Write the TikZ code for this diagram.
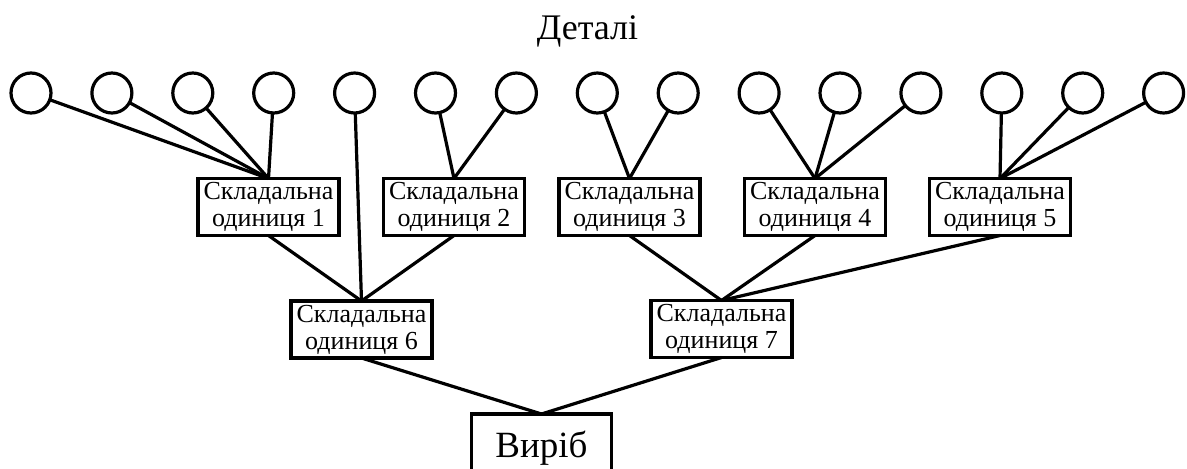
\documentclass[tikz,border=0pt]{standalone}
\usepackage{fontspec}
\setmainfont{Liberation Serif}
\begin{document}
\begin{tikzpicture}[x=0.75pt,y=-0.75pt,
  detail/.style={circle,draw,line width=2.4pt,minimum size=30pt,inner sep=0pt,outer sep=0pt},
  unit/.style={rectangle,draw,line width=2.4pt,minimum width=105.75pt,minimum height=42.75pt,inner sep=0pt,outer sep=0pt,align=center,font=\fontsize{19.5}{20.25}\selectfont},
  link/.style={line width=2.4pt}]
\useasboundingbox (0,0) rectangle (1187,468);
\node[anchor=base,font=\fontsize{27}{30}\selectfont] (title) at (587.5,39) {Деталі};
\foreach \i in {1,...,15} \node[detail] (c\i) at ({31+80.9*(\i-1)},93) {};
\node[unit] (b1) at (268.5,207) {Складальна\\одиниця 1};
\node[unit] (b2) at (454,207) {Складальна\\одиниця 2};
\node[unit] (b3) at (629.5,207) {Складальна\\одиниця 3};
\node[unit] (b4) at (815,207) {Складальна\\одиниця 4};
\node[unit] (b5) at (1000,207) {Складальна\\одиниця 5};
\node[unit] (b6) at (361.5,329.5) {Складальна\\одиниця 6};
\node[unit] (b7) at (721.5,329) {Складальна\\одиниця 7};
\node[unit,minimum width=105pt,minimum height=51pt,font=\fontsize{27.75}{30}\selectfont] (v) at (541.5,448) {Виріб};
\foreach \i in {1,2,3,4} \draw[link] (c\i) -- (b1.north);
\draw[link] (c5) -- (b6.north);
\foreach \i in {6,7} \draw[link] (c\i) -- (b2.north);
\foreach \i in {8,9} \draw[link] (c\i) -- (b3.north);
\foreach \i in {10,11,12} \draw[link] (c\i) -- (b4.north);
\foreach \i in {13,14,15} \draw[link] (c\i) -- (b5.north);
\foreach \b in {b1,b2} \draw[link] (\b.south) -- (b6.north);
\foreach \b in {b3,b4,b5} \draw[link] (\b.south) -- (b7.north);
\foreach \b in {b6,b7} \draw[link] (\b.south) -- (v.north);
\end{tikzpicture}
\end{document}
